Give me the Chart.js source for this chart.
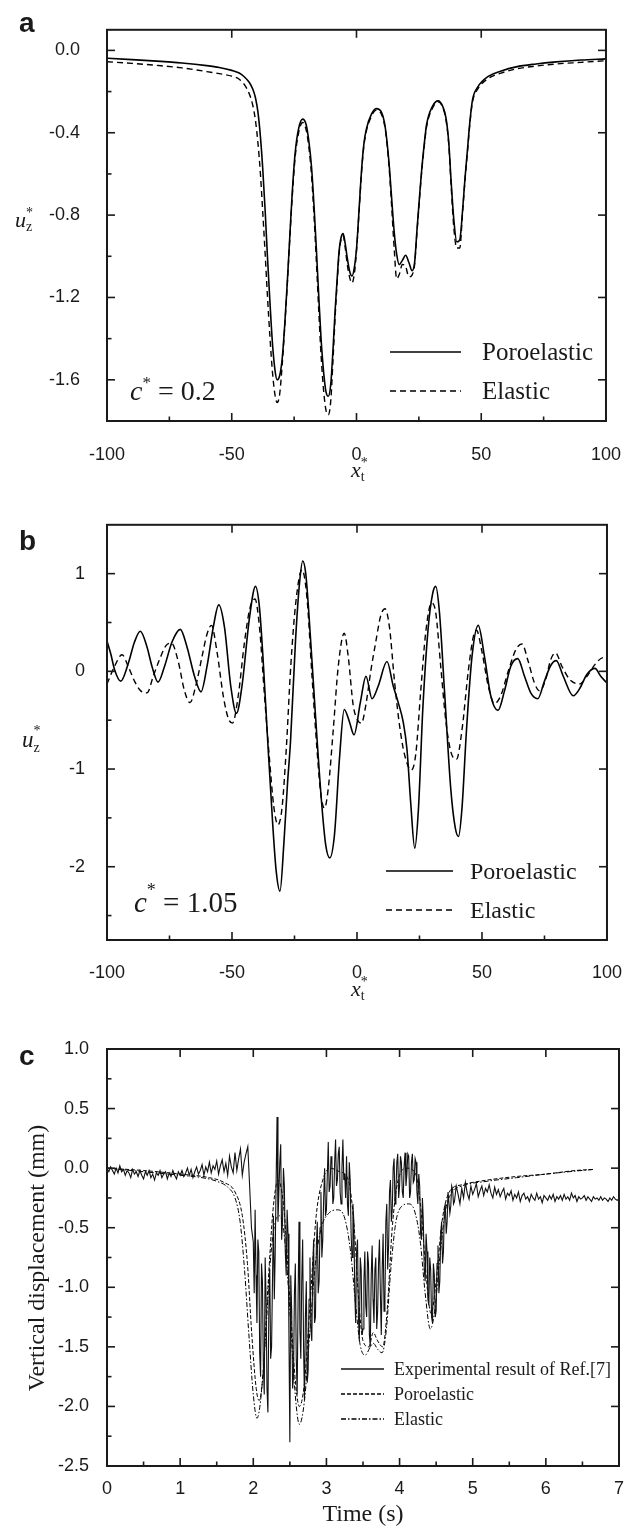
<!DOCTYPE html>
<html>
<head>
<meta charset="utf-8">
<script src="https://cdn.jsdelivr.net/npm/chart.js@4.4.1/dist/chart.umd.min.js"></script>
<style>
  html, body { margin: 0; padding: 0; background: #fff; }
  body { width: 636px; height: 1528px; position: relative; overflow: hidden; }
  canvas { position: absolute; left: 0; }
</style>
</head>
<body>
<canvas id="chartA" width="636" height="500" style="top:0"></canvas>
<canvas id="chartB" width="636" height="520" style="top:500px"></canvas>
<canvas id="chartC" width="636" height="508" style="top:1020px"></canvas>
<script>
// ---- panel a : c* = 0.2 ----
const xA = [-100,-90,-80,-70,-60,-55,-50,-47,-45,-43,
  -41.5,-40.5,-39.5,-38.5,-37.6,-36.6,-35.7,-34.7,-33.7,-32.7,
  -31.8,-30.8,-29.8,-28.8,-27.8,-26.8,-25.8,-24.6,-23.2,-21.6,
  -20.2,-19,-18,-17,-16.1,-15.1,-14.2,-13.2,-12.2,-11.3,
  -10.3,-9.4,-8.5,-7.7,-7,-6.2,-5.35,-4.5,-3.8,-2.8,
  -1.8,-0.8,0.1,1.1,2.1,3,4,6,7.9,10,
  11.2,12.2,13.2,14.1,15.1,16.1,17.1,18.4,19.7,21,
  22.3,23.3,24.2,25.2,26.2,27.2,28.1,30.5,32.7,34.5,
  35.9,37,37.9,39,40.2,41.4,42.5,43.5,44.5,45.5,
  46.5,48.5,53,58,64,72,80,90,100];
const poroA = [-0.038,-0.045,-0.052,-0.061,-0.074,-0.083,-0.097,-0.11,-0.128,-0.155,
  -0.19,-0.23,-0.30,-0.42,-0.57,-0.78,-1.00,-1.22,-1.42,-1.55,
  -1.60,-1.58,-1.50,-1.34,-1.14,-0.92,-0.70,-0.50,-0.38,-0.334,
  -0.36,-0.45,-0.57,-0.76,-0.96,-1.20,-1.40,-1.56,-1.66,-1.68,
  -1.62,-1.45,-1.25,-1.10,-0.98,-0.91,-0.89,-0.94,-1.00,-1.07,
  -1.096,-1.05,-0.95,-0.76,-0.57,-0.45,-0.38,-0.31,-0.283,-0.30,
  -0.35,-0.44,-0.57,-0.72,-0.88,-0.99,-1.04,-1.02,-0.995,-1.03,
  -1.07,-1.03,-0.88,-0.72,-0.57,-0.45,-0.36,-0.27,-0.245,-0.27,
  -0.33,-0.45,-0.63,-0.82,-0.93,-0.92,-0.78,-0.62,-0.48,-0.34,
  -0.24,-0.18,-0.125,-0.10,-0.08,-0.066,-0.056,-0.047,-0.041];
const elasA = [-0.055,-0.063,-0.073,-0.085,-0.103,-0.113,-0.125,-0.14,-0.165,-0.21,
  -0.27,-0.34,-0.45,-0.60,-0.78,-0.99,-1.19,-1.39,-1.56,-1.67,
  -1.71,-1.67,-1.53,-1.35,-1.15,-0.93,-0.72,-0.52,-0.40,-0.35,
  -0.385,-0.48,-0.61,-0.81,-1.02,-1.27,-1.48,-1.65,-1.75,-1.77,
  -1.70,-1.50,-1.28,-1.12,-0.99,-0.92,-0.90,-0.96,-1.03,-1.10,
  -1.13,-1.08,-0.96,-0.77,-0.58,-0.46,-0.39,-0.32,-0.29,-0.31,
  -0.36,-0.45,-0.59,-0.76,-0.96,-1.11,-1.09,-1.04,-1.05,-1.10,
  -1.09,-1.04,-0.89,-0.73,-0.58,-0.46,-0.37,-0.28,-0.25,-0.275,
  -0.34,-0.46,-0.65,-0.86,-0.96,-0.96,-0.79,-0.63,-0.49,-0.35,
  -0.25,-0.19,-0.135,-0.11,-0.09,-0.076,-0.066,-0.058,-0.05];

// ---- panel b : c* = 1.05 ----
const xPoroB = [-100,-98.5,-97,-94.5,-91.5,-89,-86.7,-84,-82,-79.6,
  -77,-74,-70.7,-68,-65,-62.4,-60,-57.5,-55.3,-53,
  -50.5,-48.2,-46,-43,-40.6,-39,-37.6,-35.7,-33.7,-32.3,
  -30.8,-29.2,-27.8,-26.6,-24.6,-23,-21.7,-20.5,-19.4,-16.8,
  -14.2,-12.5,-10.9,-9,-7,-5.1,-3.1,-1.2,1.4,3.6,
  6,8.5,12,14.5,16.5,18.5,20,21.5,23.1,24.6,
  26.3,28.5,30.3,31.5,33,35,37.5,39.3,40.6,42,
  43.8,46,48.5,51,53.5,56.4,59,61.5,64.3,67,
  69.5,72.3,75,77.5,79.7,82.5,86.5,89,92,95.2,
  97.5,100];
const poroB = [0.31,0.18,0.02,-0.10,0.08,0.30,0.41,0.25,0.05,-0.11,
  0.05,0.30,0.43,0.25,-0.05,-0.21,0.05,0.45,0.68,0.45,
  -0.15,-0.43,-0.15,0.55,0.87,0.65,0.14,-0.72,-1.57,-2.05,
  -2.25,-1.74,-1.15,-0.72,0.31,0.90,1.13,1.00,0.65,-0.375,
  -1.33,-1.78,-1.91,-1.67,-0.89,-0.39,-0.51,-0.65,-0.31,-0.05,
  -0.28,-0.15,0.10,-0.15,-0.32,-0.52,-0.80,-1.35,-1.81,-1.40,
  -0.40,0.45,0.80,0.87,0.60,-0.20,-1.20,-1.60,-1.69,-1.40,
  -0.60,0.15,0.47,0.15,-0.25,-0.40,-0.20,0.05,0.13,-0.05,
  -0.22,-0.28,-0.10,0.06,0.11,-0.05,-0.25,-0.18,-0.03,0.03,
  -0.05,-0.12];
const xElasB = [-100,-97,-94,-91.5,-89,-86.5,-84,-81.5,-79,-76.5,
  -74.2,-71.5,-69,-66.8,-64.5,-62,-60,-58.2,-56,-53.5,
  -51.5,-49.8,-47.5,-45,-42.8,-40.8,-39,-37,-35,-33.3,
  -31.6,-30,-28.3,-26.5,-24.5,-22,-20,-18,-16,-14.5,
  -13,-11.5,-9.5,-7.5,-5.1,-3.5,-1.5,0.3,1.8,3.5,
  5.5,7.5,9.5,11.2,13,15,17,19,21.7,23.5,
  25.5,27.5,29.8,31.5,33.5,35.5,37.5,39.8,42,44.5,
  46.5,47.8,50,52.5,55,57.5,60.5,63.5,66,68.5,
  71,73.1,75.5,77.5,79.4,82,85,88.9,92,95.5,
  98.5,100];
const elasB = [-0.13,0.05,0.17,0.05,-0.10,-0.20,-0.22,-0.05,0.12,0.26,
  0.29,0.10,-0.20,-0.32,-0.15,0.15,0.38,0.47,0.20,-0.25,
  -0.48,-0.53,-0.25,0.30,0.65,0.74,0.45,-0.25,-0.90,-1.38,
  -1.57,-1.40,-0.80,0.05,0.70,1.04,0.75,-0.05,-0.80,-1.25,
  -1.40,-1.20,-0.60,0.05,0.39,0.15,-0.35,-0.50,-0.53,-0.35,
  0.00,0.30,0.57,0.64,0.45,-0.10,-0.55,-0.85,-1.01,-0.85,
  -0.20,0.40,0.70,0.60,0.05,-0.50,-0.82,-0.90,-0.60,0.00,
  0.35,0.42,0.20,-0.15,-0.33,-0.25,0.00,0.22,0.28,0.10,
  -0.12,-0.20,-0.08,0.12,0.19,0.05,-0.08,-0.13,-0.05,0.08,
  0.14,0.13];

// ---- panel c : field test ----
const expTime = [0,0.025,0.05,0.075,0.1,0.125,0.15,0.175,0.2,0.225,
  0.25,0.275,0.3,0.325,0.35,0.375,0.4,0.425,0.45,0.475,
  0.5,0.525,0.55,0.575,0.6,0.625,0.65,0.675,0.7,0.725,
  0.75,0.775,0.8,0.825,0.85,0.875,0.9,0.925,0.95,0.975,
  1,1.025,1.05,1.075,1.1,1.125,1.15,1.175,1.2,1.225,
  1.25,1.275,1.3,1.325,1.35,1.375,1.4,1.425,1.45,1.475,
  1.5,1.525,1.55,1.575,1.6,1.625,1.65,1.675,1.7,1.725,
  1.75,1.775,1.8,1.825,1.85,1.875,1.9,1.925,1.95,1.975,
  2,2.0125,2.025,2.0375,2.05,2.0625,2.075,2.0875,2.1,2.1125,2.125,2.1375,2.15,2.1625,2.175,2.1875,2.2,2.2125,2.225,2.2375,
  2.25,2.2625,2.275,2.2875,2.3,2.3125,2.325,2.3375,2.35,2.3625,2.375,2.3875,2.4,2.4125,2.425,2.4375,2.45,2.4625,2.475,2.4875,
  2.5,2.5125,2.525,2.5375,2.55,2.5625,2.575,2.5875,2.6,2.6125,2.625,2.6375,2.65,2.6625,2.675,2.6875,2.7,2.7125,2.725,2.7375,
  2.75,2.7625,2.775,2.7875,2.8,2.8125,2.825,2.8375,2.85,2.8625,2.875,2.8875,2.9,2.9125,2.925,2.9375,2.95,2.9625,2.975,2.9875,
  3,3.0125,3.025,3.0375,3.05,3.0625,3.075,3.0875,3.1,3.1125,3.125,3.1375,3.15,3.1625,3.175,3.1875,3.2,3.2125,3.225,3.2375,
  3.25,3.2625,3.275,3.2875,3.3,3.3125,3.325,3.3375,3.35,3.3625,3.375,3.3875,3.4,3.4125,3.425,3.4375,3.45,3.4625,3.475,3.4875,
  3.5,3.5125,3.525,3.5375,3.55,3.5625,3.575,3.5875,3.6,3.6125,3.625,3.6375,3.65,3.6625,3.675,3.6875,3.7,3.7125,3.725,3.7375,
  3.75,3.7625,3.775,3.7875,3.8,3.8125,3.825,3.8375,3.85,3.8625,3.875,3.8875,3.9,3.9125,3.925,3.9375,3.95,3.9625,3.975,3.9875,
  4,4.0125,4.025,4.0375,4.05,4.0625,4.075,4.0875,4.1,4.1125,4.125,4.1375,4.15,4.1625,4.175,4.1875,4.2,4.2125,4.225,4.2375,
  4.25,4.2625,4.275,4.2875,4.3,4.3125,4.325,4.3375,4.35,4.3625,4.375,4.3875,4.4,4.4125,4.425,4.4375,4.45,4.4625,4.475,4.4875,
  4.5,4.5125,4.525,4.5375,4.55,4.5625,4.575,4.5875,4.6,4.6125,4.625,4.6375,4.65,4.6625,4.675,4.6875,4.7,4.7125,4.725,4.7375,
  4.75,4.775,4.8,4.825,4.85,4.875,4.9,4.925,4.95,4.975,
  5,5.025,5.05,5.075,5.1,5.125,5.15,5.175,5.2,5.225,
  5.25,5.275,5.3,5.325,5.35,5.375,5.4,5.425,5.45,5.475,
  5.5,5.525,5.55,5.575,5.6,5.625,5.65,5.675,5.7,5.725,
  5.75,5.775,5.8,5.825,5.85,5.875,5.9,5.925,5.95,5.975,
  6,6.025,6.05,6.075,6.1,6.125,6.15,6.175,6.2,6.225,
  6.25,6.275,6.3,6.325,6.35,6.375,6.4,6.425,6.45,6.475,
  6.5,6.525,6.55,6.575,6.6,6.625,6.65,6.675,6.7,6.725,
  6.75,6.775,6.8,6.825,6.85,6.875,6.9,6.925,6.95,6.975,
  7];
const expDisp = [0.00,-0.03,0.01,-0.02,-0.05,0.00,-0.04,0.02,-0.03,-0.01,
  -0.06,-0.02,-0.04,-0.08,-0.01,-0.05,-0.03,-0.07,-0.02,-0.06,
  -0.09,-0.03,-0.06,-0.02,-0.08,-0.05,-0.10,-0.04,-0.06,-0.02,
  -0.08,-0.05,-0.03,-0.09,-0.04,-0.07,-0.02,-0.06,-0.09,-0.03,
  -0.06,-0.02,-0.07,-0.04,0.00,-0.06,-0.01,-0.08,-0.03,0.01,
  -0.05,-0.02,0.03,-0.06,0.01,-0.03,0.05,-0.04,0.02,-0.01,
  0.06,-0.05,0.02,0.07,-0.03,0.04,-0.06,0.10,0.01,-0.04,
  0.13,-0.02,0.08,0.16,-0.06,0.05,0.12,0.18,-0.15,-0.50,
  -0.62,-1.05,-0.35,-0.90,-1.30,-0.60,-0.70,-1.55,-1.75,-0.80,-0.95,-1.65,-1.90,-0.75,-1.10,-1.85,-2.05,-1.20,-0.85,-1.60,
  -1.50,-0.95,-0.40,-1.10,-0.70,-0.10,0.43,-0.45,-0.20,0.05,0.20,-0.60,-0.45,0.00,-0.15,-0.70,-0.90,-0.35,-0.55,-1.40,
  -2.30,-0.90,-1.20,-1.85,-1.75,-1.05,-0.80,-1.60,-1.90,-1.10,-0.45,-1.35,-1.60,-0.95,-0.60,-1.50,-1.95,-1.25,-0.95,-1.80,
  -1.70,-1.10,-0.75,-1.35,-1.45,-0.85,-0.60,-1.30,-1.25,-0.65,-0.45,-1.05,-0.95,-0.50,-0.20,-0.75,-0.60,-0.25,0.00,-0.40,
  -0.35,-0.05,0.22,-0.20,-0.15,0.10,0.05,-0.30,-0.25,0.05,0.24,-0.15,-0.10,0.12,0.18,-0.20,-0.30,0.00,0.24,-0.10,
  -0.05,-0.25,0.10,-0.30,-0.40,0.05,-0.10,-0.55,-0.75,-0.30,-0.45,-1.05,-1.30,-0.70,-0.60,-1.25,-1.45,-0.75,-0.85,-1.40,
  -1.35,-0.95,-0.70,-1.15,-1.25,-0.70,-0.80,-1.40,-1.50,-0.90,-0.65,-1.10,-1.30,-0.85,-0.75,-1.35,-1.20,-0.80,-0.60,-1.05,
  -1.40,-0.85,-0.55,-1.20,-1.10,-0.45,-0.30,-0.85,-0.65,-0.20,-0.10,-0.45,-0.35,0.00,0.08,-0.30,-0.20,0.05,0.12,-0.25,
  -0.15,0.10,0.05,-0.20,-0.25,0.02,0.13,-0.15,-0.05,0.12,0.10,-0.25,-0.20,0.05,0.12,-0.12,-0.10,0.08,0.05,-0.20,
  -0.30,-0.05,-0.15,-0.55,-0.60,-0.25,-0.45,-0.85,-0.95,-0.55,-0.70,-1.10,-1.15,-0.75,-0.85,-1.25,-1.30,-0.80,-0.90,-1.25,
  -1.20,-0.80,-0.65,-1.05,-0.95,-0.55,-0.45,-0.80,-0.70,-0.35,-0.30,-0.55,-0.45,-0.20,-0.20,-0.38,-0.32,-0.15,-0.18,-0.30,
  -0.28,-0.15,-0.22,-0.30,-0.17,-0.25,-0.12,-0.21,-0.26,-0.15,
  -0.22,-0.18,-0.13,-0.24,-0.19,-0.15,-0.23,-0.17,-0.20,-0.14,
  -0.21,-0.25,-0.16,-0.22,-0.18,-0.24,-0.20,-0.17,-0.26,-0.21,
  -0.23,-0.19,-0.27,-0.22,-0.25,-0.20,-0.28,-0.23,-0.21,-0.26,
  -0.24,-0.28,-0.22,-0.25,-0.27,-0.21,-0.26,-0.24,-0.29,-0.23,
  -0.25,-0.27,-0.23,-0.26,-0.22,-0.28,-0.24,-0.26,-0.23,-0.27,
  -0.22,-0.26,-0.24,-0.27,-0.21,-0.25,-0.23,-0.28,-0.24,-0.26,
  -0.25,-0.23,-0.27,-0.24,-0.26,-0.28,-0.24,-0.26,-0.25,-0.27,
  -0.24,-0.27,-0.25,-0.26,-0.28,-0.25,-0.27,-0.24,-0.26,-0.27,
  -0.26];
const poroCt = [0,0.5,1.0,1.4,1.6,1.75,1.85,1.92,1.98,2.04,
  2.08,2.13,2.2,2.27,2.34,2.42,2.5,2.57,2.63,2.7,
  2.78,2.86,2.95,3.05,3.18,3.3,3.38,3.44,3.5,3.58,
  3.64,3.7,3.77,3.83,3.9,3.98,4.1,4.22,4.3,4.37,
  4.43,4.5,4.58,4.68,4.85,5.2,5.6,6.0,6.4,6.67];
const poroC = [0,-0.02,-0.05,-0.08,-0.12,-0.2,-0.4,-0.8,-1.4,-1.85,
  -1.95,-1.75,-1.0,-0.35,-0.1,-0.35,-1.1,-1.75,-2.0,-1.8,
  -1.1,-0.4,-0.1,0.0,-0.03,-0.1,-0.5,-1.1,-1.45,-1.5,
  -1.38,-1.45,-1.5,-1.2,-0.5,-0.1,0.0,-0.05,-0.4,-0.95,
  -1.22,-0.95,-0.45,-0.2,-0.14,-0.1,-0.07,-0.05,-0.02,-0.01];
const elasCt = [0,0.5,1.0,1.3,1.5,1.65,1.75,1.82,1.88,1.94,
  2.0,2.05,2.1,2.17,2.23,2.3,2.36,2.43,2.5,2.56,
  2.63,2.7,2.77,2.85,2.93,3.03,3.15,3.25,3.33,3.4,
  3.46,3.53,3.6,3.64,3.7,3.76,3.82,3.88,3.95,4.03,
  4.12,4.2,4.28,4.35,4.42,4.48,4.55,4.63,4.72,4.85,
  5.2,5.6,6.0,6.4,6.67];
const elasC = [0,-0.03,-0.06,-0.08,-0.11,-0.16,-0.25,-0.45,-0.85,-1.4,
  -1.9,-2.1,-1.95,-1.4,-0.8,-0.45,-0.4,-0.6,-1.2,-1.8,
  -2.15,-1.95,-1.4,-0.8,-0.5,-0.38,-0.35,-0.42,-0.7,-1.15,
  -1.48,-1.57,-1.5,-1.47,-1.52,-1.55,-1.35,-0.85,-0.45,-0.32,
  -0.3,-0.35,-0.6,-1.05,-1.35,-1.2,-0.75,-0.35,-0.2,-0.15,
  -0.11,-0.08,-0.05,-0.025,-0.01];

// ---- ticks ----
const xTicksAB = [-100, -50, 0, 50, 100];
const xMinorAB = [-75, -25, 25, 75];
const xTopAB = [-50, 0, 50];
const yTicksA = [0, -0.4, -0.8, -1.2, -1.6];
const yMinorA = [-0.2, -0.6, -1.0, -1.4];
const yTicksB = [1, 0, -1, -2];
const yMinorB = [0.5, -0.5, -1.5, -2.5];
const xTicksC = [0, 1, 2, 3, 4, 5, 6, 7];
const xMinorC = [0.5, 1.5, 2.5, 3.5, 4.5, 5.5, 6.5];
const xTopC = [1, 2, 3, 4, 5, 6];
const yTicksC = [1, 0.5, 0, -0.5, -1, -1.5, -2, -2.5];
const yMinorC = [0.75, 0.25, -0.25, -0.75, -1.25, -1.75, -2.25];
const yRightC = [0.5, 0, -0.5, -1, -1.5, -2];

const SANS = '"Liberation Sans", Arial, sans-serif';
const SERIF = '"Liberation Serif", "Times New Roman", serif';
const INK = '#1a1a1a';

const pts = (xs, ys) => xs.map((x, i) => ({ x, y: ys[i] }));

function xAxis(min, max, ticks, fmt, pad) {
  return {
    type: 'linear', min, max,
    grid: { display: false }, border: { display: false },
    ticks: { color: INK, font: { family: SANS, size: 18 }, padding: pad, maxRotation: 0, autoSkip: false, callback: fmt },
    afterBuildTicks: s => { s.ticks = ticks.map(v => ({ value: v })); },
    afterFit: s => { s.height = 40; }
  };
}

function yAxis(min, max, ticks, fmt, pad) {
  return {
    type: 'linear', min, max,
    grid: { display: false }, border: { display: false },
    ticks: { color: INK, font: { family: SANS, size: 18 }, padding: pad, autoSkip: false, callback: fmt },
    afterBuildTicks: s => { s.ticks = ticks.map(v => ({ value: v })); },
    afterFit: s => { s.width = 107; }
  };
}

function seg(ctx, x1, y1, x2, y2) {
  ctx.beginPath(); ctx.moveTo(x1, y1); ctx.lineTo(x2, y2); ctx.stroke();
}

// box round the plot with inward ticks on all sides
function frame(t) {
  return {
    id: 'frame',
    afterDatasetsDraw(chart) {
      const { ctx, chartArea: a, scales: { x, y } } = chart;
      ctx.save();
      ctx.strokeStyle = INK;
      ctx.lineWidth = 1.6;
      t.bottom.forEach(v => { const p = x.getPixelForValue(v); seg(ctx, p, a.bottom, p, a.bottom - 8); });
      t.bottomMinor.forEach(v => { const p = x.getPixelForValue(v); seg(ctx, p, a.bottom, p, a.bottom - 4.5); });
      t.top.forEach(v => { const p = x.getPixelForValue(v); seg(ctx, p, a.top, p, a.top + 8); });
      t.left.forEach(v => { const p = y.getPixelForValue(v); seg(ctx, a.left, p, a.left + 8, p); });
      t.leftMinor.forEach(v => { const p = y.getPixelForValue(v); seg(ctx, a.left, p, a.left + 4.5, p); });
      t.right.forEach(v => { const p = y.getPixelForValue(v); seg(ctx, a.right, p, a.right - 8, p); });
      ctx.lineWidth = 2;
      ctx.strokeRect(a.left, a.top, a.right - a.left, a.bottom - a.top);
      ctx.restore();
    }
  };
}

// legend drawn inside the plot, from the datasets
function legendBox(L) {
  return {
    id: 'legendBox',
    afterDatasetsDraw(chart) {
      const ctx = chart.ctx;
      ctx.save();
      chart.data.datasets.forEach((ds, i) => {
        const yy = L.y + i * L.dy;
        ctx.strokeStyle = ds.borderColor;
        ctx.lineWidth = Math.max(ds.borderWidth, 1.4);
        ctx.setLineDash(ds.borderDash || []);
        seg(ctx, L.x1, yy, L.x2, yy);
        ctx.setLineDash([]);
        ctx.fillStyle = INK;
        ctx.font = L.font;
        ctx.textBaseline = 'alphabetic';
        ctx.fillText(ds.label, L.tx, yy + L.base);
      });
      ctx.restore();
    }
  };
}

// text runs with sub/superscripts
function rich(ctx, x, y, parts) {
  let cx = x;
  for (const p of parts) {
    ctx.font = p.font;
    ctx.fillText(p.text, cx, y + (p.dy || 0));
    if (!p.keep) cx += ctx.measureText(p.text).width;
  }
}

function labels(draw) {
  return {
    id: 'labels',
    afterDraw(chart) {
      const ctx = chart.ctx;
      ctx.save();
      ctx.fillStyle = INK;
      ctx.textBaseline = 'alphabetic';
      ctx.textAlign = 'left';
      draw(ctx);
      ctx.restore();
    }
  };
}

const baseOpts = {
  responsive: false,
  animation: false,
  events: [],
  plugins: { legend: { display: false }, tooltip: { enabled: false } }
};

const solid = (label, data, w) => ({ label, data, borderColor: '#000', borderWidth: w, pointRadius: 0, cubicInterpolationMode: 'monotone', fill: false });

// ---- chart a ----
new Chart(document.getElementById('chartA'), {
  type: 'line',
  data: {
    datasets: [
      solid('Poroelastic', pts(xA, poroA), 1.6),
      { ...solid('Elastic', pts(xA, elasA), 1.4), borderDash: [6, 4] }
    ]
  },
  options: {
    ...baseOpts,
    layout: { padding: { top: 8, right: 17, bottom: 39, left: 0 } },
    scales: {
      x: xAxis(-100, 100, xTicksAB, v => String(v), 15),
      y: yAxis(-1.8, 0.1, yTicksA, v => v.toFixed(1), 19)
    }
  },
  plugins: [
    frame({ bottom: xTicksAB, bottomMinor: xMinorAB, top: xTopAB, left: yTicksA, leftMinor: yMinorA, right: yTicksA }),
    legendBox({ x1: 390, x2: 461, tx: 482, y: 352, dy: 39, base: 8, font: '25px ' + SERIF }),
    labels(ctx => {
      ctx.font = 'bold 28px ' + SANS;
      ctx.fillText('a', 19, 32);
      rich(ctx, 15, 227, [
        { text: 'u', font: 'italic 22px ' + SERIF },
        { text: '*', font: '14px ' + SERIF, dy: -10, keep: true },
        { text: 'z', font: '14px ' + SERIF, dy: 4 }
      ]);
      rich(ctx, 351, 477, [
        { text: 'x', font: 'italic 22px ' + SERIF },
        { text: '*', font: '14px ' + SERIF, dy: -10, keep: true },
        { text: 't', font: '14px ' + SERIF, dy: 4 }
      ]);
      rich(ctx, 130, 400, [
        { text: 'c', font: 'italic 28px ' + SERIF },
        { text: '*', font: '17px ' + SERIF, dy: -12 },
        { text: ' = 0.2', font: '28px ' + SERIF }
      ]);
    })
  ]
});

// ---- chart b ----
new Chart(document.getElementById('chartB'), {
  type: 'line',
  data: {
    datasets: [
      solid('Poroelastic', pts(xPoroB, poroB), 1.6),
      { ...solid('Elastic', pts(xElasB, elasB), 1.4), borderDash: [6, 4] }
    ]
  },
  options: {
    ...baseOpts,
    layout: { padding: { top: 24, right: 17, bottom: 40, left: 0 } },
    scales: {
      x: xAxis(-100, 100, xTicksAB, v => String(v), 14),
      y: yAxis(-2.75, 1.5, yTicksB, v => String(v), 14)
    }
  },
  plugins: [
    frame({ bottom: xTicksAB, bottomMinor: xMinorAB, top: xTopAB, left: yTicksB, leftMinor: yMinorB, right: yTicksB }),
    legendBox({ x1: 386, x2: 453, tx: 470, y: 371, dy: 39, base: 8, font: '24px ' + SERIF }),
    labels(ctx => {
      ctx.font = 'bold 28px ' + SANS;
      ctx.fillText('b', 19, 50);
      rich(ctx, 22, 247, [
        { text: 'u', font: 'italic 23px ' + SERIF },
        { text: '*', font: '14px ' + SERIF, dy: -12, keep: true },
        { text: 'z', font: '14px ' + SERIF, dy: 5 }
      ]);
      rich(ctx, 351, 496, [
        { text: 'x', font: 'italic 22px ' + SERIF },
        { text: '*', font: '14px ' + SERIF, dy: -10, keep: true },
        { text: 't', font: '14px ' + SERIF, dy: 4 }
      ]);
      rich(ctx, 134, 412, [
        { text: 'c', font: 'italic 29px ' + SERIF },
        { text: '*', font: '18px ' + SERIF, dy: -16 },
        { text: ' = 1.05', font: '29px ' + SERIF }
      ]);
    })
  ]
});

// ---- chart c ----
new Chart(document.getElementById('chartC'), {
  type: 'line',
  data: {
    datasets: [
      { label: 'Experimental result of Ref.[7]', data: pts(expTime, expDisp), borderColor: '#111', borderWidth: 1.1, pointRadius: 0, tension: 0, fill: false },
      { ...solid('Poroelastic', pts(poroCt, poroC), 1), borderDash: [4, 2] },
      { ...solid('Elastic', pts(elasCt, elasC), 1), borderDash: [5, 2, 1.5, 2] }
    ]
  },
  options: {
    ...baseOpts,
    layout: { padding: { top: 29, right: 17, bottom: 22, left: 0 } },
    scales: {
      x: xAxis(0, 7, xTicksC, v => String(v), 4),
      y: yAxis(-2.5, 1.0, yTicksC, v => v.toFixed(1), 10)
    }
  },
  plugins: [
    frame({ bottom: xTicksC, bottomMinor: xMinorC, top: xTopC, left: yTicksC, leftMinor: yMinorC, right: yRightC }),
    legendBox({ x1: 341, x2: 384, tx: 394, y: 349, dy: 25, base: 6, font: '18px ' + SERIF }),
    labels(ctx => {
      ctx.font = 'bold 28px ' + SANS;
      ctx.fillText('c', 19, 45);
      ctx.font = '24px ' + SERIF;
      ctx.textAlign = 'center';
      ctx.fillText('Time (s)', 363, 501);
      ctx.translate(38, 238);
      ctx.rotate(-Math.PI / 2);
      ctx.textBaseline = 'middle';
      ctx.fillText('Vertical displacement (mm)', 0, 0);
    })
  ]
});
</script>
</body>
</html>
